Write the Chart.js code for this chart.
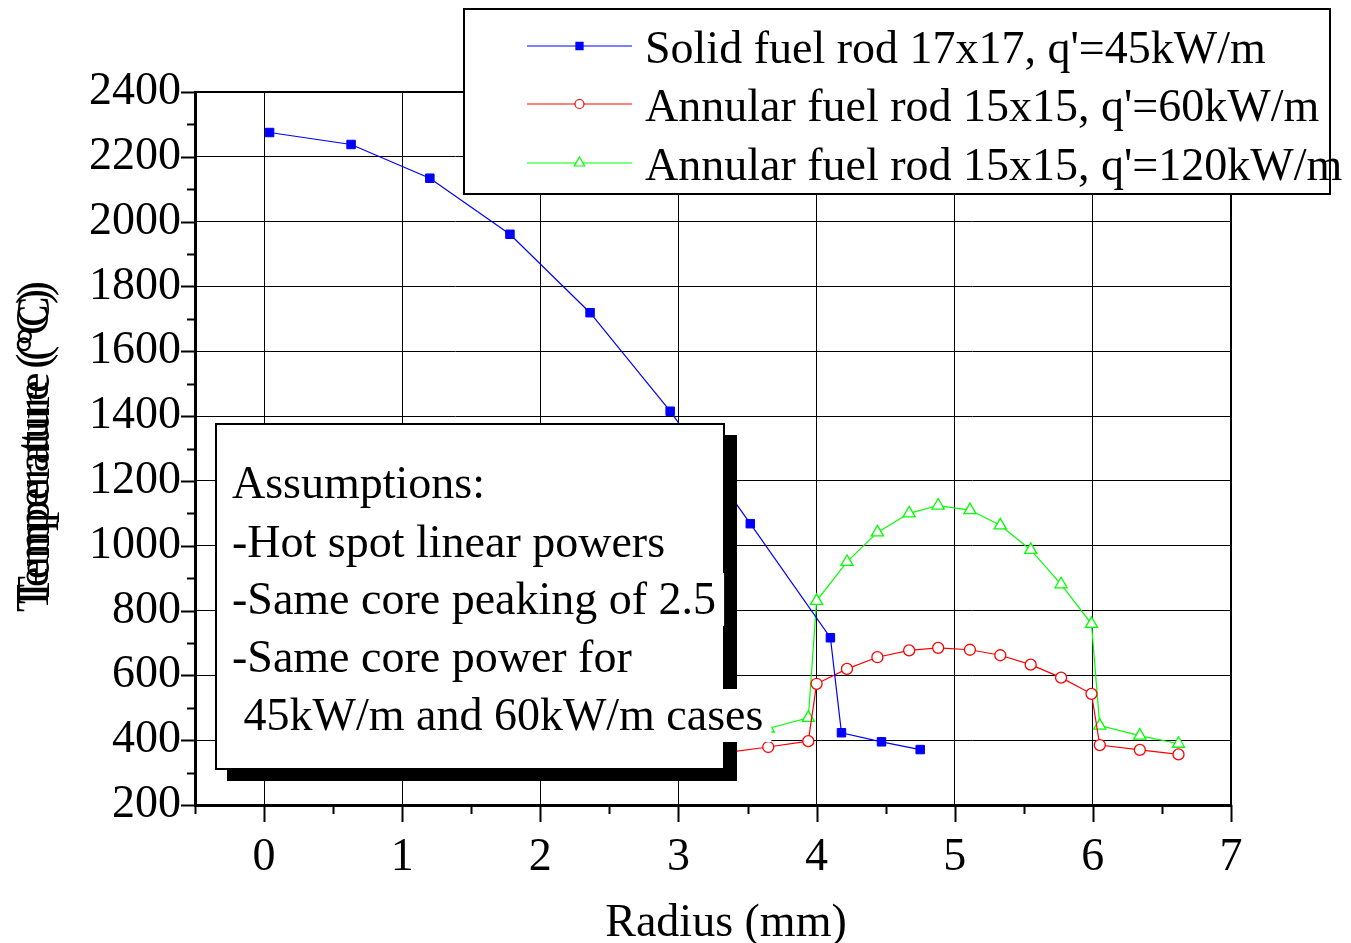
<!DOCTYPE html>
<html>
<head>
<meta charset="utf-8">
<title>Fuel rod temperature profiles</title>
<script src="https://cdn.jsdelivr.net/npm/chart.js@4/dist/chart.umd.min.js"></script>
<style>
  html, body { margin: 0; padding: 0; background: #fff; }
  canvas { display: block; }
</style>
</head>
<body>
<canvas id="tempChart" width="1351" height="943"></canvas>
<script>
// radius (mm) / temperature (C)
const solidRadius = [0.04, 0.63, 1.20, 1.78, 2.36, 2.94, 3.52, 4.10, 4.18, 4.47, 4.75];
const solidTemp   = [2275, 2238, 2134, 1961, 1719, 1415, 1068, 716, 423, 395, 371];

const annularRadius = [3.37, 3.65, 3.94, 4.00, 4.22, 4.44, 4.67, 4.88, 5.11, 5.33, 5.55, 5.77, 5.99, 6.05, 6.34, 6.62];
const annular60Temp  = [363, 379, 397, 574, 620, 656, 677, 685, 679, 662, 633, 593, 543, 385, 370, 356];
const annular120Temp = [410, 436, 469, 830, 950, 1041, 1100, 1124, 1110, 1063, 987, 881, 759, 445, 414, 389];

const seriesLabels = [
  "Solid fuel rod 17x17, q'=45kW/m",
  "Annular fuel rod 15x15, q'=60kW/m",
  "Annular fuel rod 15x15, q'=120kW/m"
];
const xTicks = [0, 1, 2, 3, 4, 5, 6, 7];
const xTitle = 'Radius (mm)';
const yTitle = 'Temperature (\u00B0C)';
const noteLines = [
  'Assumptions:',
  '-Hot spot linear powers',
  '-Same core peaking of 2.5',
  '-Same core power for',
  ' 45kW/m and 60kW/m cases'
];

const SERIF = "'Liberation Serif', 'Times New Roman', serif";
const toPoints = (xs, ys) => xs.map((x, i) => ({ x: x, y: ys[i] }));

// frame, minor ticks, titles, note box and legend
const decorations = {
  id: 'decorations',
  afterDraw(chart) {
    const ctx = chart.ctx;
    const area = chart.chartArea;
    const xs = chart.scales.x;
    const ys = chart.scales.y;
    ctx.save();

    // top and right frame
    ctx.strokeStyle = '#000';
    ctx.lineWidth = 2;
    ctx.beginPath();
    ctx.moveTo(area.left, area.top);
    ctx.lineTo(area.right, area.top);
    ctx.lineTo(area.right, area.bottom);
    ctx.stroke();

    // tick marks
    ctx.lineWidth = 2;
    ctx.beginPath();
    for (let v = -0.5; v <= 7.001; v += 0.5) {
      const px = Math.round(xs.getPixelForValue(v)) + 0.5;
      const len = Number.isInteger(v) ? 17 : 9;
      ctx.moveTo(px, area.bottom);
      ctx.lineTo(px, area.bottom + len);
    }
    for (let v = 200; v <= 2400; v += 100) {
      const py = Math.round(ys.getPixelForValue(v)) + 0.5;
      const len = v % 200 === 0 ? 14 : 8;
      ctx.moveTo(area.left, py);
      ctx.lineTo(area.left - len, py);
    }
    ctx.stroke();

    ctx.fillStyle = '#000';
    ctx.font = '46px ' + SERIF;

    // x title
    ctx.textAlign = 'center';
    ctx.textBaseline = 'alphabetic';
    ctx.fillText(xTitle, 726, 936);

    // y title (printed twice, slightly shifted, as in the original)
    ctx.save();
    ctx.translate(48, 612);
    ctx.rotate(-Math.PI / 2);
    ctx.textAlign = 'left';
    ctx.fillText(yTitle, 0, 0);
    ctx.fillText(yTitle, 8, 1);
    ctx.restore();

    // assumptions box
    ctx.fillStyle = '#000';
    ctx.fillRect(227, 435, 510, 346);
    ctx.fillStyle = '#fff';
    ctx.fillRect(216, 424, 508, 345);
    ctx.strokeStyle = '#000';
    ctx.lineWidth = 2;
    ctx.strokeRect(216, 424, 508, 345);
    ctx.textAlign = 'left';
    const noteBase = [498, 557, 614, 672, 730];
    noteLines.forEach((t, i) => {
      const w = ctx.measureText(t).width;
      ctx.fillStyle = '#fff';
      ctx.fillRect(230, noteBase[i] - 41, w + 10, 53);
      ctx.fillStyle = '#000';
      ctx.fillText(t, 232, noteBase[i]);
    });

    // legend
    ctx.fillStyle = '#fff';
    ctx.fillRect(464, 9, 866, 185);
    ctx.strokeStyle = '#000';
    ctx.lineWidth = 2;
    ctx.strokeRect(464, 9, 866, 185);
    const rowY = [46, 104, 163];
    const legendRadius = [5, 4.5, 6];
    chart.data.datasets.forEach((ds, i) => {
      const y = rowY[i];
      ctx.strokeStyle = ds.borderColor;
      ctx.lineWidth = 1.2;
      ctx.beginPath();
      ctx.moveTo(527, y);
      ctx.lineTo(632, y);
      ctx.stroke();
      ctx.fillStyle = ds.pointBackgroundColor;
      ctx.strokeStyle = ds.pointBorderColor;
      Chart.helpers.drawPoint(ctx, {
        pointStyle: ds.pointStyle,
        radius: legendRadius[i],
        rotation: 0,
        borderWidth: 1.2
      }, 579.5, y);
      ctx.fillStyle = '#000';
      ctx.fillText(ds.label, 645, y + 17);
    });

    ctx.restore();
  }
};

const tickFont = { family: SERIF, size: 46 };

new Chart(document.getElementById('tempChart'), {
  type: 'scatter',
  data: {
    datasets: [
      {
        label: seriesLabels[0],
        data: toPoints(solidRadius, solidTemp),
        showLine: true,
        borderColor: '#0000ff',
        borderWidth: 1.2,
        pointStyle: 'rect',
        pointRadius: 6,
        pointBorderWidth: 1,
        pointBackgroundColor: '#0000ff',
        pointBorderColor: '#0000ff'
      },
      {
        label: seriesLabels[1],
        data: toPoints(annularRadius, annular60Temp),
        showLine: true,
        borderColor: '#ff0000',
        borderWidth: 1.2,
        pointStyle: 'circle',
        pointRadius: 5.5,
        pointBorderWidth: 1.3,
        pointBackgroundColor: '#ffffff',
        pointBorderColor: '#ff0000'
      },
      {
        label: seriesLabels[2],
        data: toPoints(annularRadius, annular120Temp),
        showLine: true,
        borderColor: '#00ff00',
        borderWidth: 1.2,
        pointStyle: 'triangle',
        pointRadius: 7,
        pointBorderWidth: 1.3,
        pointBackgroundColor: '#ffffff',
        pointBorderColor: '#00ff00'
      }
    ]
  },
  options: {
    responsive: false,
    animation: false,
    devicePixelRatio: 1,
    layout: { padding: { top: 92, right: 120, left: 0, bottom: 0 } },
    plugins: {
      legend: { display: false },
      tooltip: { enabled: false }
    },
    scales: {
      x: {
        type: 'linear',
        min: -0.5,
        max: 7,
        afterBuildTicks: scale => { scale.ticks = xTicks.map(v => ({ value: v })); },
        afterFit: scale => { scale.height = 138; },
        ticks: { font: tickFont, color: '#000', padding: 25, maxRotation: 0, callback: v => String(v) },
        grid: { color: '#000', lineWidth: 1, drawTicks: false },
        border: { color: '#000', width: 3 }
      },
      y: {
        min: 200,
        max: 2400,
        afterFit: scale => { scale.width = 195; },
        ticks: { stepSize: 200, font: tickFont, color: '#000', padding: 14, callback: v => String(v) },
        grid: { color: '#000', lineWidth: 1, drawTicks: false },
        border: { color: '#000', width: 3 }
      }
    }
  },
  plugins: [decorations]
});
</script>
</body>
</html>
